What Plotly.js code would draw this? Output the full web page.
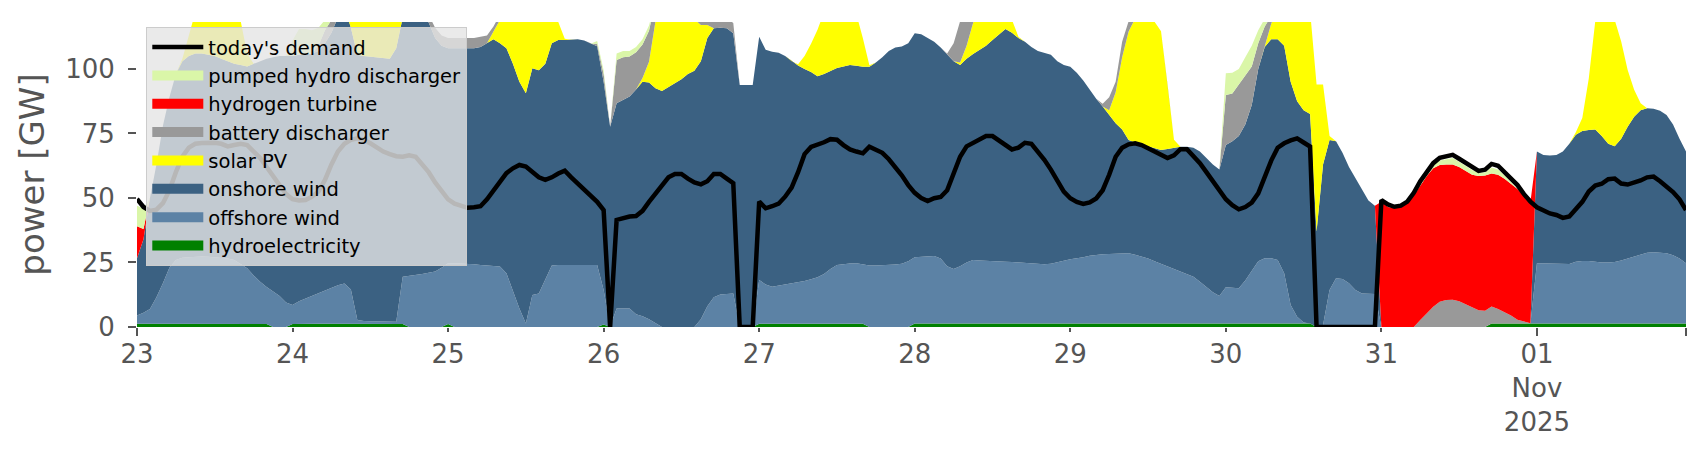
<!DOCTYPE html>
<html><head><meta charset="utf-8">
<script src="https://cdn.plot.ly/plotly-3.0.1.min.js"></script>
<style>html,body{margin:0;padding:0;background:#fff}#chart{width:1706px;height:460px}</style>
</head><body><div id="chart"></div>
<script>
// hourly values, 23 Oct 2025 00:00 .. 01 Nov 2025 23:00 (one line per day), GW
const demand = [
49.6,46.5,45,45.5,48,53,60,66,69.5,71,71.3,71.5,71.4,71,70,70.5,71,70.5,68,65.5,62,58.5,55,51.5,
49.5,49,49.2,50.5,52.5,57,63,68,71,72.5,73.1,72.5,71.2,69.5,68,67,66.2,66,66.5,66,63,60,56,52.5,
49.5,47.8,46.8,46.2,46.4,46.8,49.5,53,56.5,59.6,61.5,62.8,62.2,60,58,57,58,59.5,60.6,58,55.5,53,51,48.5,
45.3,0,41.5,42.2,42.8,43,45,48.5,51.8,55,58,59.3,59.3,57.5,56,55.3,56.5,59.3,59.3,57.5,55.7,0,0,0,
48.6,46,46.8,47.8,50.5,54,60,67,69.8,70.5,71.6,72.8,72.6,70.5,68.8,68,67.3,69.9,68.8,67.5,65,62,58.8,55,
52,50,48.8,49.9,50.4,53,59,66,70,71.3,72.8,74,74,72.3,70.2,68.8,69.5,71.4,71,68,64.8,61,56.8,52.5,
49.9,48.5,47.7,48.3,49.8,53,59,66,69.5,70.8,71.2,70.5,69.3,68,66.7,65.5,66.5,68.9,68.9,66.5,63.5,60,56.3,52.5,
49.5,47.2,45.6,46.5,48.2,51.8,58,64.5,69.5,71.2,72.3,73.1,71.5,69.9,0,0,0,0,0,0,0,0,0,0,
49.2,47.5,46.6,47,48.6,52,56.5,60.2,63.5,65.6,66.3,66.7,65.2,63.6,62.1,60.5,61,63.2,62.5,60,57.3,55,51.5,48.6,
46.4,45.2,44,43.4,42.3,42.8,45.5,48.5,52.5,54.8,55.5,57.3,57.5,55.6,55.2,55.9,56.8,58,58.3,56.5,54.4,52.3,49.5,45.3];

const hydroelectricity = [
1.3,1.3,1.3,1.2,1.2,1.2,1.3,1.3,1.3,1.3,1.3,1.3,1.3,1.3,1.4,1.4,1.4,1.3,1.3,1.2,1.2,0,0,0,
1.2,1.3,1.3,1.3,1.3,1.3,1.3,1.4,1.4,1.4,1.4,1.4,1.4,1.3,1.3,1.3,1.3,1.2,0,0,0,0,0,0,
1.2,0,0,0,0,0,0,0,0,0,0,0,0,0,0,0,0,0,0,0,0,0,0,0,
1.0,0,0,0,0,0,0,0,0,0,0,0,0,0,0,0,0,0,0,0,0,0,0,0,
1.3,1.3,1.3,1.3,1.3,1.3,1.3,1.3,1.3,1.3,1.3,1.3,1.3,1.3,1.3,1.3,1.3,0,0,0,0,0,0,0,
1.4,1.4,1.4,1.4,1.4,1.4,1.4,1.4,1.4,1.4,1.4,1.4,1.4,1.4,1.4,1.4,1.4,1.4,1.4,1.4,1.4,1.4,1.4,1.4,
1.4,1.4,1.4,1.4,1.4,1.4,1.4,1.4,1.4,1.4,1.4,1.4,1.4,1.4,1.4,1.4,1.4,1.4,1.4,1.4,1.4,1.4,1.4,1.4,
1.4,1.4,1.4,1.4,1.4,1.4,1.4,1.4,1.4,1.4,1.4,1.4,1.4,1.4,0,0,0,0,0,0,0,0,0,0,
0,0,0,0,0,0,0,0,0,0,0,0,0,0,0,0,0,1.4,1.4,1.4,1.4,1.4,1.4,1.4,
1.4,1.4,1.4,1.4,1.4,1.4,1.4,1.4,1.4,1.4,1.4,1.4,1.4,1.4,1.4,1.4,1.4,1.4,1.4,1.4,1.4,1.4,1.4,1.4];

const offshoreWind = [
3.2,4.2,5.7,10.3,15.8,21.8,24.7,25.5,25.7,25.9,26,25.9,25.7,25.5,25.1,24.6,23.1,21.5,18.7,16.3,14.3,13.8,12,9.5,
7.3,8.7,9.7,10.7,11.9,12.9,14,14.8,15.5,13.1,1.3,0.9,0.8,0.9,0.9,0.9,0.7,18.3,19.8,20,20.5,21,21.5,23,
23.5,24.7,24.6,24.5,24.3,24,23.8,23.6,23.4,20.8,13.7,7.2,1.4,12.4,13,18.2,23.8,24,24,24,24,24,24,24,
13.3,0,7.2,7.2,7.2,4.9,4.2,3,1.5,0,0,0,0,0,0,3,8,11.5,12.6,12.8,13,0,0,0,
16.9,15.2,14.3,14.7,15.2,15.6,15.9,16.5,17.2,18,19.2,21.2,22.7,23.1,23.3,23.4,22.9,23.8,23.8,23.9,24,24.2,24.5,25.5,
25.6,25.8,26,26.1,25.1,22.1,21.1,22.1,23.6,24.6,24.4,24.2,24.1,24,23.9,23.8,23.6,23.4,23.1,22.9,22.9,23.1,23.6,24.3,
24.9,25.2,25.6,26.2,26.6,26.8,26.9,27,27.2,27.2,26.6,25.9,25.1,24.1,23.1,22.1,21.3,20.4,19.1,18.1,16.1,14.1,12.1,10.6,
14,13.8,13.6,16.6,20.6,24.1,25.2,25.2,24.6,19.4,7.1,2.6,0.3,0,0,0.8,14.3,18.9,18.6,17,14.3,13,12.9,12.8,
0,0,0,0,0,0,0,0,0,0,0,0,0,0,0,0,0,0,0,0,0,0,0,0,
23.3,23.2,23.1,23,22.9,23,23.9,24.2,24.2,23.9,23.6,23.6,23.8,24.4,25.1,25.9,26.8,27.4,27.6,27.5,27.2,26.4,25.1,23.3];

const onshoreWind = [
22.1,28.5,43,51.5,61,66,72,76.2,78,78.8,78.7,78.3,78,77.2,76.5,76,77,78.2,82,85.5,88.5,90.7,93,95.5,
96.5,95.5,94.5,94,93.8,95.8,98.7,103.8,107.1,101.5,102.8,102.7,102.6,102.3,102,101.8,106,100.5,104.2,104,101.5,97,90.5,86,
83.3,83.3,83.4,83.5,83.7,84.5,86.2,87.9,86.6,87.2,88.3,87.8,89.2,87.9,86.5,83.8,86.2,87.2,87.2,87.3,87.5,87,85.8,84.8,
80.7,77.6,79.5,80.8,82.1,87.1,90.8,91.8,91,91.5,93,94.5,96,98,99.3,100,104,104.3,103.4,103,100.8,93.8,93.8,93.8,
94.3,90.9,91.1,90.3,88.5,86.1,84.1,82.2,80.3,77.9,77.5,76.7,76.4,76.6,76.9,76.5,76.7,77.1,78.7,80.6,83,84.1,84.2,84.5,
86.8,86.3,84.6,83,81.8,82,80.5,78,79,79.8,81.6,83.4,85.7,88.1,90.2,88.8,87,85.7,84,82.7,82,81,78,75.8,
74.6,71.9,68.5,64.4,60.5,57.3,53.7,50.6,47.9,43.9,43.5,43.5,43.5,43.8,44.1,45.5,46.9,48.1,49.4,50,50.5,50,49.5,49,
55.1,56.8,59,60.5,64,74.5,81.9,84.9,85.5,88.2,86.5,83.5,82.3,81.1,37,62.2,58.2,53.1,48.9,45,43.2,40,36.1,34.2,
0,0,0,0,0,0,0,0,0,0,0,0,0,0,0,0,0,0,0,0,0,0,0,0,
43.3,42.1,42,42.3,43.7,46.6,49.2,50.4,50.7,51.2,49,46,44.8,47.2,51.1,54.2,55.8,56,55.6,54.9,53.6,50.7,46.5,43.3];

const solarPV = [
0,0,0,0,0,0,0,1,8,16,22,25,26,24,21,18,17,5,0,0,0,0,0,0,
0,0,0,0,0,0,0,0,0,5,15,20,22,22,20,17,12,3,0,0,0,0,0,0,
0,0,0,0,0,0,0,3,9,14,22,28,32,26,26,24,14,7,0.5,0,0,0,0,0,
0,0,0,0,0,0,1.5,8,26,30,28,26,24,22,20,14,5,0,0,0,0,0,0,0,
0,0,0,0,0,0,0.5,5,11,18,24,27,28,27,24,20,11,0.5,0,0,0,0,0,0,
0,0,0,0,0,0,0,1,5,12,16,18,16,12,8,5,0.5,0,0,0,0,0,0,0,
0,0,0,0,0,0,2,12,28,42,48,50,50,49,46,25,3,0,0,0,0,0,0,0,
0,0,0,0,0,0,0,6,12,18,30,38,42,40,57,31,1.5,0,0,0,0,0,0,0,
0,0,0,0,0,0,0,0,0,0,0,0,0,0,0,0,0,0,0,0,0,0,0,0,
0,0,0,0,0,0,1,5,20,42,48,50,49,37.6,22,10.4,2.7,0,0,0,0,0,0,0];

const batteryDischarger = [
0,0,0,0,0,0,0,0,0,0,0,0,0,0,0,0,0,0,0,0,0,0,0,0,
0,0,0,0,2,5,5,0,0,0,0,0,0,0,0,0,0,0,0,0,0,3,4,4,
4,4,4,4,4,4,3,2,2,1,0,0,0,0,0,0,0,0,0,0,0,0,0,1,
3,0,16.8,16.5,15.5,14.5,13,12,8,2,0,0,0,0,0,3,4,4,4,4,4,0,0,0,
0,0,0,0,0,0,0,0,0,0,0,0,0,0,0,0,0,0,0,0,0,0,0,0,
0,0,0,0,0,0.5,7,16,10,4,0,0,0,0,0,0,0,0,0,0,0,0,0,0,
0,0,0,0,0,1,5,4,6,4,0,0,0,0,0,0,0,0,0,0,0,0,0,0,
19.4,18.5,20,19,15,10,8,3,0,0,0,0,0,0,0,0,0,0,0,0,0,0,0,0,
0,0,0,0,0,0,2.7,5.3,7.8,9.8,10.5,10.6,10,8.8,7.6,6.5,6.3,6.5,5.6,4.4,3.1,1.4,0.6,0.1,
0,0,0,0,0,0,0,0,0,0,0,0,0,0,0,0,0,0,0,0,0,0,0,0];

const hydrogenTurbine = [
12.4,4,0,0,0,0,0,0,0,0,0,0,0,0,0,0,0,0,0,0,0,0,0,0,
0,0,0,0,0,0,0,0,0,0,0,0,0,0,0,0,0,0,0,0,0,0,0,0,
0,0,0,0,0,0,0,0,0,0,0,0,0,0,0,0,0,0,0,0,0,0,0,0,
0,0,0,0,0,0,0,0,0,0,0,0,0,0,0,0,0,0,0,0,0,0,0,0,
0,0,0,0,0,0,0,0,0,0,0,0,0,0,0,0,0,0,0,0,0,0,0,0,
0,0,0,0,0,0,0,0,0,0,0,0,0,0,0,0,0,0,0,0,0,0,0,0,
0,0,0,0,0,0,0,0,0,0,0,0,0,0,0,0,0,0,0,0,0,0,0,0,
0,0,0,0,0,0,0,0,0,0,0,0,0,0,0,0,0,0,0,0,0,0,0,0,
48.5,46.5,46,46.5,48,51,52.3,53.2,53.7,53,52.5,52.4,52,51.7,51.4,52,52.4,51.6,52,51.7,51,50.7,49,47,
0,0,0,0,0,0,0,0,0,0,0,0,0,0,0,0,0,0,0,0,0,0,0,0];

const pumpedHydroDischarger = [
8,8,0,0,0,0,0,0,0,0,0,0,0,0,0,0,0,0,0,0,0,0,0,0,
6,10,10,9,7,4,0,0,0,0,0,0,0,0,0,0,0,0,0,0,0,0,0,0,
0,0,0,0,0,0,0,0,0,0,0,0,0,0,0,0,0,0,0,0,0,0,0,1,
1.5,0,2.5,2.5,2.2,2,2,2,0,0,0,0,0,0,0,0,0,0,0,0,0,0,0,0,
0,0,0,0,0,0,0,0,0,0,0,0,0,0,0,0,0,0,0,0,0,0,0,0,
0,0,0,0,0,0,0,0,0,0,0,0,0,0,0,0,0,0,0,0,0,0,0,0,
0,0,0,0,0,0,0,0,0,0,0,0,0,0,0,0,0,0,0,0,0,0,0,0,
8.4,8,6,7,8,5,3,0,0,0,0,0,0,0,0,0,0,0,0,0,0,0,0,0,
0,0,0,0,0,0,0,1.3,1.5,1.7,2,2.5,2,1.8,1.8,1.3,1.3,2.3,2,1.3,0.5,0.1,0,0,
0,0,0,0,0,0,0,0,0,0,0,0,0,0,0,0,0,0,0,0,0,0,0,0];

const dayTickLabels = ['23','24','25','26','27','28','29','30','31','01<br>Nov<br>2025'];

// hourly time index
const start = Date.UTC(2025, 9, 23, 0, 0);
function fmt(ms){ return new Date(ms).toISOString().slice(0,16).replace('T',' '); }
const time = demand.map((_, i) => fmt(start + i*3600000));
const dayTicks = dayTickLabels.map((_, d) => fmt(start + d*86400000));
const endTick = time[time.length-1];
const majorTicks = [dayTicks[0], dayTicks[dayTicks.length-1], endTick];

const series = [
  {name:'hydroelectricity', y:hydroelectricity, color:'#008000', rank:8},
  {name:'offshore wind', y:offshoreWind, color:'#5c82a5', rank:7},
  {name:'onshore wind', y:onshoreWind, color:'#3b6182', rank:6},
  {name:'solar PV', y:solarPV, color:'#ffff00', rank:5},
  {name:'battery discharger', y:batteryDischarger, color:'#999999', rank:4},
  {name:'hydrogen turbine', y:hydrogenTurbine, color:'#ff0000', rank:3},
  {name:'pumped hydro discharger', y:pumpedHydroDischarger, color:'#daf6a8', rank:2}
];

const traces = series.map(s => ({
  type:'scatter', mode:'lines', x:time, y:s.y, name:s.name,
  stackgroup:'gen', line:{width:0, color:s.color}, fillcolor:s.color,
  showlegend:false, hoverinfo:'skip'
}));
traces.push({type:'scatter', mode:'lines', x:time, y:demand, name:"today's demand",
  line:{color:'#000000', width:4.5}, legendgroup:'demand', legendrank:1, hoverinfo:'skip'});
// legend keys drawn as wide boxes
series.forEach(s => traces.push({type:'scatter', mode:'lines', x:[null], y:[null], name:s.name,
  line:{color:s.color, width:13}, legendgroup:s.name, legendrank:s.rank, hoverinfo:'skip'}));

const layout = {
  width:1706, height:460,
  margin:{l:137, r:20, t:22, b:133},
  paper_bgcolor:'#ffffff', plot_bgcolor:'#ffffff',
  font:{family:'DejaVu Sans', color:'#555555'},
  showlegend:true,
  legend:{x:0.006, y:0.984, xanchor:'left', yanchor:'top',
    bgcolor:'rgba(229,229,229,0.8)', bordercolor:'#cccccc', borderwidth:1,
    font:{family:'DejaVu Sans', size:19.5, color:'#000000'},
    traceorder:'grouped', tracegroupgap:0, itemwidth:51},
  xaxis:{type:'date', range:[time[0], endTick], tickmode:'array',
    tickvals:dayTicks, ticktext:dayTickLabels, ticks:'outside', ticklen:4, tickwidth:2,
    tickcolor:'#555555', showgrid:false, zeroline:false, showline:false, tickangle:0,
    tickfont:{family:'DejaVu Sans', size:26, color:'#555555'},
    minor:{tickmode:'array', tickvals:majorTicks, ticks:'outside', ticklen:8, tickwidth:2, tickcolor:'#555555', showgrid:false}},
  yaxis:{range:[0,118.2], tickmode:'array', tickvals:[0,25,50,75,100], ticks:'outside',
    ticklen:8, tickwidth:2, tickcolor:'#555555', showgrid:false, zeroline:false, showline:false,
    ticklabelstandoff:8,
    tickfont:{family:'DejaVu Sans', size:26, color:'#555555'},
    title:{text:'power [GW]', font:{family:'DejaVu Sans', size:34, color:'#555555'}, standoff:10}}
};

Plotly.newPlot('chart', traces, layout, {staticPlot:true, displayModeBar:false});
</script></body></html>
